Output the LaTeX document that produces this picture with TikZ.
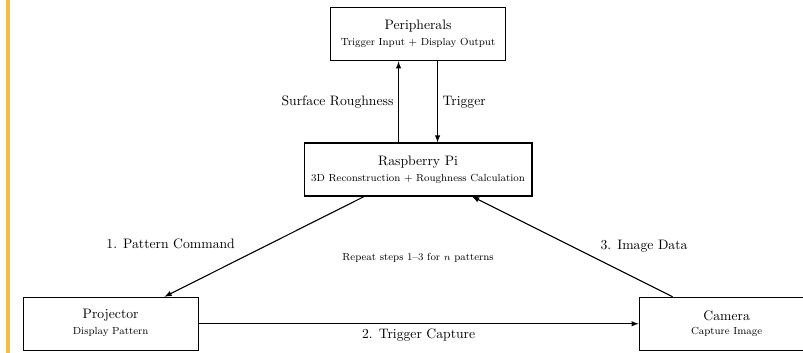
\documentclass[tikz,border=0pt]{standalone}
\usetikzlibrary{arrows}

\definecolor{barorange}{HTML}{F2BE44}
\tikzset{
	block/.style={draw, rectangle, thick, minimum height=1.36cm, minimum width=4.49cm},
	flow/.style={-latex, thick},
	subtext/.style={font=\fontsize{7.5}{9}\selectfont},
}

\begin{document}
\begin{tikzpicture}
		\useasboundingbox (-10.73,-4.71) rectangle (9.88,4.35);
		\fill[barorange] (-10.58,-4.71) rectangle (-10.47,4.35);

		% Peripherals
		\node[block] (periph) at (0,3.47) {};
		\node (periphtitle) at (0,3.67) {Peripherals};
		\node[subtext] (periphsub) at (0,3.24) {Trigger Input + Display Output};

		% Raspberry Pi
		\node[block, minimum width=5.85cm] (rpi) at (0,0) {};
		\node (rpititle) at (0,0.2) {Raspberry Pi};
		\node[subtext] (rpisub) at (0,-0.24) {3D Reconstruction + Roughness Calculation};

		% Projector
		\node[block] (proj) at (-7.89,-3.96) {};
		\node (projtitle) at (-7.89,-3.75) {Projector};
		\node[subtext] (projsub) at (-7.89,-4.17) {Display Pattern};

		% Camera
		\node[block] (cam) at (7.92,-3.96) {};
		\node (camtitle) at (7.92,-3.75) {Camera};
		\node[subtext] (camsub) at (7.92,-4.17) {Capture Image};

		% Connections
		\draw[flow] ([xshift=-0.5cm]rpi.north) -- ([xshift=-0.5cm]periph.south) node[midway, left] (roughlabel) {Surface Roughness};
		\draw[flow] ([xshift=0.5cm]periph.south) -- ([xshift=0.5cm]rpi.north) node[midway, right] (triglabel) {Trigger};
		\draw[flow] (rpi) -- (proj);
		\draw[flow] (proj) -- (cam) node[midway, below] (capturelabel) {2. Trigger Capture};
		\draw[flow] (cam) -- (rpi);

		% Step labels
		\node (cmdlabel) at (-6.35,-1.91) {1. Pattern Command};
		\node (datalabel) at (5.80,-1.96) {3. Image Data};
		\node[subtext] (repeatlabel) at (0,-2.28) {Repeat steps 1--3 for $n$ patterns};
	\end{tikzpicture}
\end{document}
